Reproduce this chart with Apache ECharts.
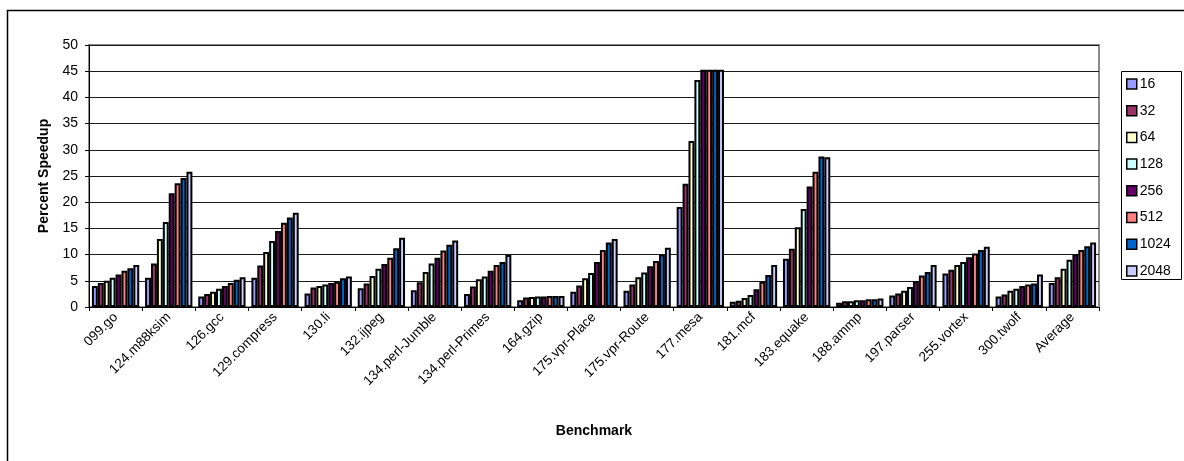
<!DOCTYPE html>
<html>
<head>
<meta charset="utf-8">
<script src="https://cdn.jsdelivr.net/npm/echarts@6/dist/echarts.min.js"></script>
<style>
  html, body { margin: 0; padding: 0; background: #fff; }
  #chart { width: 1184px; height: 461px; }
</style>
</head>
<body>
<div id="chart"></div>
<script>
// Benchmarks on the category axis
const categories = [
  '099.go', '124.m88ksim', '126.gcc', '129.compress', '130.li', '132.ijpeg',
  '134.perl-Jumble', '134.perl-Primes', '164.gzip', '175.vpr-Place', '175.vpr-Route',
  '177.mesa', '181.mcf', '183.equake', '188.ammp', '197.parser', '255.vortex',
  '300.twolf', 'Average'
];

// Percent speedup per configuration size
const s16   = [4.0, 5.6, 2.0, 5.6, 2.6, 3.6, 3.2, 2.5, 1.3, 2.9, 3.1, 19.1, 1.0, 9.2, 0.8, 2.2, 6.4, 2.0, 4.6];
const s32   = [4.6, 8.3, 2.5, 7.9, 3.7, 4.5, 4.7, 3.9, 1.8, 4.1, 4.3, 23.5, 1.2, 11.1, 1.1, 2.6, 7.1, 2.4, 5.7];
const s64   = [5.0, 13.0, 2.9, 10.5, 4.0, 5.9, 6.7, 5.3, 1.9, 5.5, 5.7, 31.7, 1.7, 15.2, 1.1, 3.1, 8.0, 3.1, 7.3];
const s128  = [5.6, 16.2, 3.5, 12.6, 4.3, 7.3, 8.3, 5.8, 2.0, 6.5, 6.6, 43.3, 2.3, 18.7, 1.3, 3.8, 8.6, 3.5, 9.0];
const s256  = [6.2, 21.7, 4.0, 14.5, 4.6, 8.2, 9.4, 6.9, 2.0, 8.6, 7.8, 45.3, 3.4, 23.0, 1.3, 4.9, 9.5, 4.0, 10.0];
const s512  = [6.9, 23.6, 4.6, 16.1, 4.8, 9.4, 10.8, 8.0, 2.1, 10.9, 8.8, 45.3, 4.8, 25.8, 1.5, 6.0, 10.2, 4.3, 10.9];
const s1024 = [7.4, 24.6, 5.2, 17.1, 5.5, 11.2, 11.9, 8.6, 2.1, 12.3, 10.0, 45.3, 6.1, 28.7, 1.5, 6.7, 10.9, 4.5, 11.6];
const s2048 = [8.0, 25.8, 5.7, 18.0, 5.8, 13.2, 12.7, 9.9, 2.1, 13.0, 11.3, 45.3, 8.0, 28.6, 1.6, 8.0, 11.5, 6.2, 12.3];

const seriesNames = ['16', '32', '64', '128', '256', '512', '1024', '2048'];
const seriesData = [s16, s32, s64, s128, s256, s512, s1024, s2048];
const seriesColors = ['#9999FF', '#993366', '#FFFFCC', '#CCFFFF', '#660066', '#FF8080', '#0066CC', '#CCCCFF'];

const yTicks = { min: 0, max: 50, interval: 5 };

const FONT = '"Liberation Sans", Arial, sans-serif';

const chart = echarts.init(document.getElementById('chart'), null, { renderer: 'canvas' });

const option = {
  backgroundColor: '#fff',
  animation: false,
  textStyle: { fontFamily: FONT, color: '#000' },
  grid: {
    left: 89, right: 85, top: 45, bottom: 154,
    show: true,
    borderColor: '#8c8c8c',
    borderWidth: 2,
    backgroundColor: 'transparent'
  },
  graphic: [
    // outer chart frame
    { type: 'rect', z: 100, shape: { x: 7.5, y: 10.5, width: 1300, height: 600 },
      style: { fill: 'none', stroke: '#000', lineWidth: 1.5 } },
    // legend frame
    { type: 'rect', z: 100, shape: { x: 1121.5, y: 71.5, width: 60, height: 208 },
      style: { fill: '#fff', stroke: '#000', lineWidth: 1 } }
  ],
  legend: {
    orient: 'vertical',
    left: 1126,
    top: 77,
    z: 200,
    padding: 0,
    itemWidth: 10,
    itemHeight: 10,
    itemGap: 12.7,
    icon: 'rect',
    textStyle: { fontFamily: FONT, fontSize: 14, color: '#000', padding: [0, 0, 0, -2], lineHeight: 14 },
    itemStyle: { borderColor: '#000', borderWidth: 1.5 },
    data: seriesNames
  },
  xAxis: {
    type: 'category',
    data: categories,
    name: 'Benchmark',
    nameLocation: 'middle',
    nameGap: 117,
    nameTextStyle: { fontFamily: FONT, fontSize: 14, fontWeight: 'bold', color: '#000' },
    axisLine: { show: true, lineStyle: { color: '#000', width: 1 } },
    axisTick: { show: true, inside: false, length: 4, lineStyle: { color: '#000' } },
    axisLabel: { rotate: 45, interval: 0, margin: 8, fontFamily: FONT, fontSize: 13.5, color: '#000' },
    splitLine: { show: false }
  },
  yAxis: {
    type: 'value',
    min: yTicks.min,
    max: yTicks.max,
    interval: yTicks.interval,
    name: 'Percent Speedup',
    nameLocation: 'middle',
    nameGap: 38,
    nameTextStyle: { fontFamily: FONT, fontSize: 14, fontWeight: 'bold', color: '#000' },
    axisLine: { show: true, lineStyle: { color: '#000', width: 1 } },
    axisTick: { show: true, length: 4, lineStyle: { color: '#000' } },
    axisLabel: { margin: 11, fontFamily: FONT, fontSize: 14, color: '#000' },
    splitLine: { show: true, lineStyle: { color: '#1a1a1a', width: 1 } }
  },
  series: seriesNames.map((name, i) => ({
    name: name,
    type: 'bar',
    data: seriesData[i],
    barGap: '0%',
    barCategoryGap: '11%',
    itemStyle: { color: seriesColors[i], borderColor: '#000', borderWidth: 2 }
  }))
};

chart.setOption(option);
</script>
</body>
</html>
